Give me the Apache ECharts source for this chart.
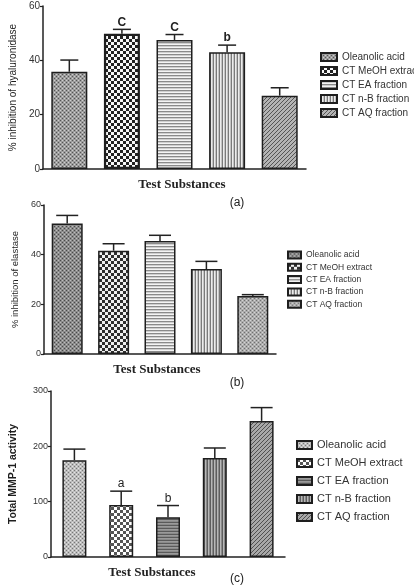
<!DOCTYPE html>
<html><head><meta charset="utf-8">
<script src="https://cdn.jsdelivr.net/npm/echarts@6/dist/echarts.min.js"></script>
<style>html,body{margin:0;padding:0;background:#fff}#c{width:414px;height:586px}</style>
</head><body><div id="c"></div>
<script>
// ---- data ----
const substances = ['Oleanolic acid', 'CT MeOH extract', 'CT EA fraction', 'CT n-B fraction', 'CT AQ fraction'];
const hyalMean = [35.8, 49.8, 47.5, 43.0, 27.0];
const hyalErr  = [4.3, 1.6, 2.0, 2.6, 2.9];
const hyalSig  = ['', 'C', 'C', 'b', ''];
const elasMean = [52.6, 41.6, 45.5, 34.2, 23.4];
const elasErr  = [3.2, 2.8, 2.3, 3.1, 0.5];
const elasSig  = ['', '', '', '', ''];
const mmpMean  = [175, 94, 72, 179, 246];
const mmpErr   = [20, 25, 21, 18, 24];
const mmpSig   = ['', 'a', 'b', '', ''];
const yTitles  = ['% inhibition of hyaluronidase', '% inhibition of elastase', 'Total MMP-1 activity'];
const xTitle   = 'Test Substances';
const panelTags = ['(a)', '(b)', '(c)'];
const yMax = [60, 60, 300];
const yStep = [20, 20, 100];

// ---- patterns ----
function pat(w, h, draw) {
  const c = document.createElement('canvas'); c.width = w; c.height = h;
  const g = c.getContext('2d'); draw(g);
  return { image: c, repeat: 'repeat' };
}
function px(g, x, y, col) { g.fillStyle = col; g.fillRect(x, y, 1, 1); }
function dots(base, dark, light) {
  return pat(4, 4, g => { g.fillStyle = base; g.fillRect(0, 0, 4, 4);
    px(g, 0, 0, dark); px(g, 2, 2, dark); px(g, 2, 0, light); px(g, 0, 2, light); });
}
function checker(a, b, s) {
  return pat(2 * s, 2 * s, g => { g.fillStyle = b; g.fillRect(0, 0, 2 * s, 2 * s);
    g.fillStyle = a; g.fillRect(0, 0, s, s); g.fillRect(s, s, s, s); });
}
function hlines(cols) {
  return pat(1, cols.length, g => cols.forEach((c, i) => px(g, 0, i, c)));
}
function vlines(cols) {
  return pat(cols.length, 1, g => cols.forEach((c, i) => px(g, i, 0, c)));
}
function diag(base, dark) {
  return pat(4, 4, g => { g.fillStyle = base; g.fillRect(0, 0, 4, 4);
    for (let i = 0; i < 4; i++) px(g, i, 3 - i, dark); });
}
const patterns = [
  [dots('#9c9c9c', '#555', '#cfcfcf'), checker('#222222', '#f8f8f8', 3), hlines(['#8a8a8a', '#cfcfcf', '#f4f4f4']),
   vlines(['#7a7a7a', '#ececec', '#c4c4c4']), diag('#b4b4b4', '#555')],
  [dots('#8c8c8c', '#4a4a4a', '#bdbdbd'), checker('#2e2e2e', '#f0f0f0', 3), hlines(['#8a8a8a', '#cfcfcf', '#f4f4f4']),
   vlines(['#7a7a7a', '#ececec', '#c4c4c4']), dots('#acacac', '#707070', '#d4d4d4')],
  [dots('#bcbcbc', '#777', '#e4e4e4'), checker('#555555', '#ffffff', 3), hlines(['#5a5a5a', '#9a9a9a', '#8a8a8a']),
   vlines(['#5e5e5e', '#b8b8b8', '#8a8a8a']), diag('#a8a8a8', '#505050')]
];

// ---- layout ----
const grids = [
  { left: 41, top: 6, width: 265, height: 163 },
  { left: 44, top: 205, width: 232, height: 149 },
  { left: 45, top: 391, width: 240, height: 166 }
];
const barW = [36, 31, 24];
const capHalf = [9, 11, 11];
const nameGaps = [21, 16, 32];
const yLabelSize = [10, 9, 9];
const yTitleStyle = [
  { fontSize: 10, fontWeight: 'normal' },
  { fontSize: 9.5, fontWeight: 'normal' },
  { fontSize: 10.5, fontWeight: 'bold' }
];
const sigFont = ['bold 12px "Liberation Sans"', 'bold 12px "Liberation Sans"', '12px "Liberation Sans"'];
const legendCfg = [
  { left: 320, top: 52, itemWidth: 16, itemHeight: 8, fontSize: 10, lineHeight: 10, itemGap: 4 },
  { left: 287, top: 250.5, itemWidth: 13, itemHeight: 7, fontSize: 8.5, lineHeight: 9, itemGap: 3.3 },
  { left: 296, top: 439, itemWidth: 15, itemHeight: 8, fontSize: 11, lineHeight: 12, itemGap: 6 }
];
const xTitlePos = [[182, 185], [157, 370], [152, 573]];
const tagPos = [[237, 203], [237, 383], [237, 579]];

const means = [hyalMean, elasMean, mmpMean];
const errs = [hyalErr, elasErr, mmpErr];
const sigs = [hyalSig, elasSig, mmpSig];

const ZW = '\u200b';
const xAxis = [], yAxis = [], series = [], legend = [], graphic = [];

for (let p = 0; p < 3; p++) {
  xAxis.push({
    type: 'category', gridIndex: p, data: substances,
    axisLabel: { show: false },
    axisTick: { alignWithLabel: true, length: 4, lineStyle: { color: '#222', width: 1.2 } },
    axisLine: { lineStyle: { color: '#222', width: 1.5 } },
    splitLine: { show: false }
  });
  yAxis.push({
    type: 'value', gridIndex: p, min: 0, max: yMax[p], interval: yStep[p],
    axisLine: { show: true, lineStyle: { color: '#222', width: 1.5 } },
    axisTick: { show: true, length: 3, lineStyle: { color: '#222', width: 1.2 } },
    splitLine: { show: false },
    axisLabel: { fontSize: yLabelSize[p], color: '#333', margin: 3, fontFamily: 'Liberation Sans' },
    name: yTitles[p], nameLocation: 'middle', nameGap: nameGaps[p], nameRotate: 90,
    nameTextStyle: { color: '#1e1e1e', fontFamily: 'Liberation Sans', fontSize: yTitleStyle[p].fontSize, fontWeight: yTitleStyle[p].fontWeight }
  });
  const names = [];
  substances.forEach((s, i) => {
    const nm = s + ZW.repeat(p);
    names.push(nm);
    series.push({
      type: 'bar', name: nm, xAxisIndex: p, yAxisIndex: p,
      data: means[p].map((v, j) => (j === i ? v : '-')),
      barWidth: barW[p], barGap: '-100%',
      itemStyle: { color: patterns[p][i], borderColor: '#1e1e1e', borderWidth: (p === 0 && i === 1) ? 2.2 : 1.5 },
      emphasis: { disabled: true }
    });
  });
  const sig = sigs[p], ch = capHalf[p], sf = sigFont[p];
  series.push({
    type: 'custom', name: 'err' + p, xAxisIndex: p, yAxisIndex: p, z: 5,
    data: means[p].map((m, i) => [i, m, m + errs[p][i]]),
    encode: { x: 0, y: [1, 2] },
    renderItem: function (params, api) {
      const i = api.value(0);
      const base = api.coord([i, api.value(1)]);
      const top = api.coord([i, api.value(2)]);
      const children = [
        { type: 'line', shape: { x1: top[0], y1: base[1], x2: top[0], y2: top[1] }, style: { stroke: '#222', lineWidth: 1.5 } },
        { type: 'line', shape: { x1: top[0] - ch, y1: top[1], x2: top[0] + ch, y2: top[1] }, style: { stroke: '#222', lineWidth: 1.5 } }
      ];
      const s = sig[params.dataIndex];
      if (s) children.push({ type: 'text', x: top[0], y: top[1] - 1,
        style: { text: s, font: sf, fill: '#222', align: 'center', verticalAlign: 'bottom' } });
      return { type: 'group', children: children };
    }
  });
  const lc = legendCfg[p];
  legend.push({
    data: names, orient: 'vertical', left: lc.left, top: lc.top, padding: 0,
    itemWidth: lc.itemWidth, itemHeight: lc.itemHeight, itemGap: lc.itemGap, icon: 'rect',
    selectedMode: false,
    formatter: n => n.replace(/\u200b/g, ''),
    textStyle: { fontSize: lc.fontSize, lineHeight: lc.lineHeight, color: '#333', fontFamily: 'Liberation Sans', padding: 0 }
  });
  graphic.push({ type: 'text', x: xTitlePos[p][0], y: xTitlePos[p][1],
    style: { text: xTitle, font: 'bold 13px "Liberation Serif"', fill: '#222', align: 'center', verticalAlign: 'middle' } });
  graphic.push({ type: 'text', x: tagPos[p][0], y: tagPos[p][1],
    style: { text: panelTags[p], font: '12px "Liberation Sans"', fill: '#222', align: 'center', verticalAlign: 'middle' } });
}

const chart = echarts.init(document.getElementById('c'), null, { renderer: 'canvas' });
chart.setOption({
  animation: false,
  backgroundColor: '#fff',
  grid: grids,
  xAxis: xAxis, yAxis: yAxis, series: series, legend: legend, graphic: graphic
});
</script></body></html>
